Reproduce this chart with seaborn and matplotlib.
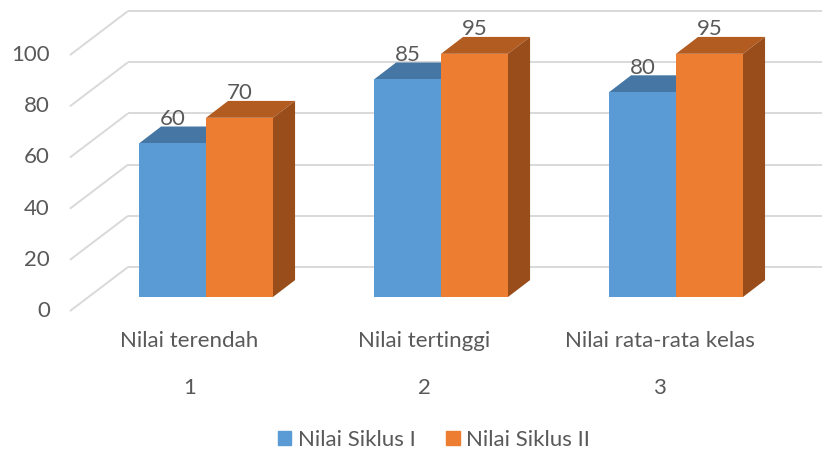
import matplotlib.pyplot as plt
import matplotlib.patches as mpatches
import pandas as pd
import seaborn as sns

categories = ["Nilai terendah", "Nilai tertinggi", "Nilai rata-rata kelas"]
category_numbers = ["1", "2", "3"]
series_names = ["Nilai Siklus I", "Nilai Siklus II"]
siklus_1 = [60, 85, 80]
siklus_2 = [70, 95, 95]
y_ticks = [0, 20, 40, 60, 80, 100]

front_colors = ["#5B9BD5", "#ED7D31"]
top_colors = ["#4676A3", "#B35C22"]
side_colors = ["#3E6890", "#984D1B"]
text_color = "#595959"
grid_color = "#D9D9D9"

# depth offsets of the fake 3d view, in data units
bar_dx, bar_dy = 0.094, 6.6
wall_left_front, wall_left_back = -0.579, -0.332
floor_dy, wall_dy = -5.5, 11.7
x_lim = (-0.8766, 2.6213)
y_lim = (-61.33, 116.02)

df = pd.DataFrame({
    "category": categories * 2,
    "series": [series_names[0]] * 3 + [series_names[1]] * 3,
    "value": siklus_1 + siklus_2,
})

sns.set_theme(style="white")
plt.rcParams["font.family"] = ["Lato", "DejaVu Sans"]

fig = plt.figure(figsize=(8.22, 4.54), dpi=100)
ax = fig.add_axes([0, 0, 1, 1])

sns.barplot(data=df, x="category", y="value", hue="series", palette=front_colors,
            width=0.57, dodge=True, saturation=1, linewidth=0, legend=False, ax=ax, zorder=3)
ax.set_xlim(*x_lim)
ax.set_ylim(*y_lim)
ax.axis("off")

# back wall grid lines, diagonal side lines and tick labels
for tick in y_ticks:
    ax.plot([wall_left_front, wall_left_back], [tick + floor_dy, tick + wall_dy],
            color=grid_color, lw=1.4, zorder=0, solid_capstyle="butt")
    ax.plot([wall_left_back, x_lim[1]], [tick + wall_dy, tick + wall_dy],
            color=grid_color, lw=1.4, zorder=0, solid_capstyle="butt")
    ax.text(wall_left_front - 0.085, tick + floor_dy, str(tick), ha="right", va="center",
            fontsize=16, color=text_color)

# top and side faces drawn from each bar's geometry
for bar_index, patch in enumerate(ax.patches[:len(df)]):
    series_index = bar_index // len(categories)
    x0 = patch.get_x()
    x1 = x0 + patch.get_width()
    h = patch.get_height()
    top = mpatches.Polygon([(x0, h), (x1, h), (x1 + bar_dx, h + bar_dy), (x0 + bar_dx, h + bar_dy)],
                           closed=True, facecolor=top_colors[series_index], edgecolor="none", zorder=2)
    side = mpatches.Polygon([(x1, 0), (x1 + bar_dx, bar_dy), (x1 + bar_dx, h + bar_dy), (x1, h)],
                            closed=True, facecolor=side_colors[series_index], edgecolor="none", zorder=2)
    ax.add_patch(top)
    ax.add_patch(side)
    ax.text((x0 + x1) / 2, h + bar_dy - 1.0, f"{h:g}", ha="center", va="bottom",
            fontsize=16, color=text_color, zorder=4)

for i, (name, number) in enumerate(zip(categories, category_numbers)):
    ax.text(i - 0.07, -17, name, ha="center", va="center", fontsize=16, color=text_color)
    ax.text(i - 0.07, -35.5, number, ha="center", va="center", fontsize=16, color=text_color)

handles = [mpatches.Patch(color=c, label=n) for c, n in zip(front_colors, series_names)]
fig.legend(handles=handles, loc="center", bbox_to_anchor=(434 / 822, 1 - 440 / 454), ncol=2,
           frameon=False, fontsize=16, labelcolor=text_color, handlelength=0.6, handleheight=0.6,
           handletextpad=0.3, columnspacing=1.4)

fig.savefig("out.png", dpi=100)
